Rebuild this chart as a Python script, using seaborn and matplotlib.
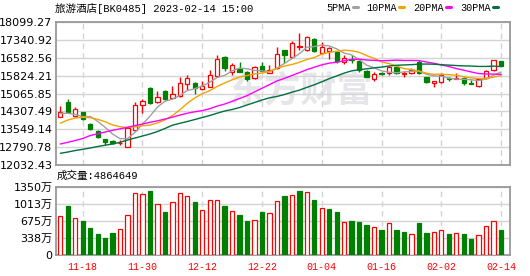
import numpy as np
import pandas as pd
import matplotlib
matplotlib.use("Agg")
import matplotlib.pyplot as plt
from matplotlib.lines import Line2D
import seaborn as sns

# ---------------- data ----------------
title = "旅游酒店[BK0485] 2023-02-14 15:00"
opens = [14081, 14692, 14124, 14268, 13771, 13474, 13135, 13063, 12970, 12808,
         13517, 14565, 15286, 14705, 15184, 14896, 14947, 15456, 15524, 15244,
         15354, 15808, 16627, 15990, 16118, 15978, 15710, 16232, 15948, 16135,
         16911, 16601, 17039, 16911, 17365, 16771, 16869, 16839, 16389, 16517,
         16457, 16033, 15681, 15915, 15922, 16203, 15914, 15922, 16415, 15753,
         15524, 15566, 15736, 15702, 15736, 15507, 15384, 15710, 16063, 16432]
closes = [14268, 14260, 14395, 13971, 13559, 13233, 13008, 12953, 12985, 13589,
          14565, 14734, 14650, 14904, 14819, 15031, 15498, 15710, 15286, 15384,
          15838, 16517, 16135, 16262, 15990, 15668, 16177, 16033, 16063, 16741,
          16699, 17195, 17060, 17450, 16882, 17026, 16983, 16457, 16559, 16487,
          16063, 15778, 15905, 15898, 16203, 15948, 15931, 16063, 15922, 15566,
          15583, 15850, 15668, 15719, 15524, 15490, 15668, 16033, 16474, 16232]
highs = [14535, 14832, 14480, 14290, 13827, 13517, 13156, 13093, 13093, 13687,
         14705, 14845, 15329, 15184, 15214, 15371, 15779, 15850, 15553, 15596,
         16063, 16712, 16657, 16372, 16402, 16020, 16232, 16415, 16262, 17026,
         16932, 17306, 17620, 17505, 17408, 17263, 17051, 16869, 16699, 16699,
         16487, 16063, 15990, 15990, 16224, 16232, 16033, 16160, 16487, 15766,
         15596, 15922, 15766, 15922, 15778, 15638, 15681, 16042, 16487, 16445]
lows = [14068, 14260, 14056, 13941, 13517, 13177, 12880, 12910, 12880, 12783,
        13487, 14251, 14620, 14675, 14790, 14875, 14917, 15214, 15044, 15235,
        15341, 15787, 16033, 15838, 15978, 15596, 15698, 16020, 15922, 16105,
        16347, 16572, 16911, 16869, 16814, 16754, 16517, 16347, 16304, 16347,
        15990, 15753, 15609, 15850, 15850, 15914, 15778, 15914, 15914, 15498,
        15354, 15498, 15609, 15681, 15426, 15481, 15354, 15702, 16020, 16220]
# volume in 万 (10k)
volumes = [772, 970, 726, 673, 535, 416, 337, 436, 508, 785,
           1221, 1208, 1267, 1010, 858, 1043, 1221, 1162, 1049, 884,
           1082, 1082, 970, 865, 792, 673, 686, 851, 832, 1063,
           1168, 1201, 1267, 1241, 1089, 924, 911, 851, 647, 673,
           660, 594, 548, 495, 627, 495, 455, 409, 634, 436,
           449, 495, 416, 429, 416, 317, 389, 568, 667, 486.4649]
last_volume = 4864649

# moving-average values before a full window is available
ma5_head = [14225, 14225, 14183, 14081]
ma10_head = [13801, 13941, 14026, 14056, 14039, 13971, 13869, 13729, 13657]
ma20_head = [12923, 12995, 13071, 13156, 13283, 13356, 13432, 13504, 13568, 13631,
             13708, 13771, 13844, 13907, 13984, 14060, 14150, 14230, 14290]
ma30_head = [12528, 12583, 12647, 12698, 12753, 12817, 12872, 12923, 12995, 13093,
             13177, 13262, 13347, 13453, 13580, 13721, 13801, 13878, 13962, 14047,
             14132, 14230, 14323, 14387, 14472, 14578, 14684, 14790, 14883]

price_ticks = [12032.43, 12790.78, 13549.14, 14307.49, 15065.85,
               15824.21, 16582.56, 17340.92, 18099.27]
vol_ticks = [0, 338, 675, 1013, 1350]
vol_tick_labels = ["0", "338万", "675万", "1013万", "1350万"]
date_tick_idx = [3, 11, 19, 27, 35, 43, 51, 59]
date_tick_labels = ["11-18", "11-30", "12-12", "12-22", "01-04", "01-16", "02-02", "02-14"]
ma_labels = ["5PMA", "10PMA", "20PMA", "30PMA"]
ma_colors = ["#a0a0a0", "#f4a300", "#ff00ff", "#00703c"]

# ---------------- style ----------------
sns.set_style("white")
plt.rcParams["font.family"] = ["DejaVu Sans", "Noto Sans CJK SC"]
RED = "#ff0000"
GREEN = "#008000"
GRID = "#d4d4d4"
FRAME = "#999999"
MONO = ["Liberation Mono", "Noto Sans CJK SC"]

W, H = 530, 276
fig = plt.figure(figsize=(W / 100, H / 100), dpi=100)
ax1 = fig.add_axes([56 / W, 1 - 165 / H, 454 / W, 143 / H])
ax2 = fig.add_axes([56 / W, 1 - 255 / H, 454 / W, 68 / H])

idx = np.arange(len(closes))
o = np.array(opens, float)
c = np.array(closes, float)
hi = np.array(highs, float)
lo = np.array(lows, float)
up = c >= o
cand_col = np.where(up, RED, GREEN)

cs = pd.Series(c)
def moving(n, head):
    m = cs.rolling(n).mean().to_numpy()
    m[: n - 1] = head
    return m

mas = [moving(5, ma5_head), moving(10, ma10_head),
       moving(20, ma20_head), moving(30, ma30_head)]

# watermark
ax1.text(0.54, 0.52, "东方财富", transform=ax1.transAxes, ha="center", va="center",
         fontsize=26, fontweight="bold", color="#e6e6ea", zorder=0,
         family=["Noto Sans CJK SC"])

# candles
ax1.vlines(idx, lo, hi, colors=cand_col, lw=1.0, zorder=3)
body_h = np.maximum(np.abs(c - o), 8)
ax1.bar(idx, body_h, bottom=np.minimum(o, c), width=0.58,
        color=np.where(up, "white", GREEN), edgecolor=cand_col,
        linewidth=0.9, zorder=4)

# moving averages
df = pd.DataFrame({"i": idx})
for lab, col, m in zip(ma_labels, ma_colors, mas):
    sns.lineplot(x=idx, y=m, ax=ax1, color=col, linewidth=1.0, zorder=5)

# volume
prev = np.r_[o[0], c[:-1]]
vol_up = c >= prev
vol_col = np.where(vol_up, RED, GREEN)
ax2.bar(idx, volumes, width=0.58, color=np.where(vol_up, "white", GREEN),
        edgecolor=vol_col, linewidth=0.9, zorder=3)

xlim = (-0.58, 60.2)
for ax in (ax1, ax2):
    ax.set_xlim(*xlim)
    ax.set_xticks(date_tick_idx)
    ax.grid(axis="y", color=GRID, lw=1, ls="-", zorder=1)
    ax.grid(axis="x", color=GRID, lw=1, ls=(0, (4, 3)), zorder=1)
    ax.set_axisbelow(True)
    for s in ax.spines.values():
        s.set_color(FRAME)
        s.set_linewidth(1.3)
    ax.tick_params(length=0, labelsize=8, pad=2.5, labelcolor="#000000")
    ax.set_xlabel("")
    ax.set_ylabel("")

ax1.set_ylim(price_ticks[0], price_ticks[-1])
ax1.set_yticks(price_ticks)
ax1.set_yticklabels([f"{v:.2f}" for v in price_ticks])
ax1.set_xticklabels([])

ax2.set_ylim(0, 1350)
ax2.set_yticks(vol_ticks)
ax2.set_yticklabels(vol_tick_labels)
ax2.set_xticklabels(date_tick_labels, color=RED, fontsize=7.2, family=MONO)
ax2.tick_params(axis="x", pad=5)

# texts
fig.text(55 / W, 1 - 8.5 / H, title, ha="left", va="center", fontsize=7.6,
         family=MONO, color="#000000")
fig.text(57 / W, 1 - 176 / H, f"成交量:{last_volume}", ha="left", va="center",
         fontsize=7.6, family=MONO, color="#000000")

# legend
leg_x = [326, 366.5, 413, 460]
for lab, col, x in zip(ma_labels, ma_colors, leg_x):
    t = fig.text(x / W, 1 - 8 / H, lab, ha="left", va="center", fontsize=7.3,
                 family=MONO, color="#000000")
    x1 = x + 6.05 * len(lab) + 2.5
    fig.add_artist(Line2D([x1 / W, (x1 + 4.8) / W], [1 - 7 / H, 1 - 7 / H],
                          color=col, lw=2.2, transform=fig.transFigure))

fig.savefig("out.png", dpi=100)
